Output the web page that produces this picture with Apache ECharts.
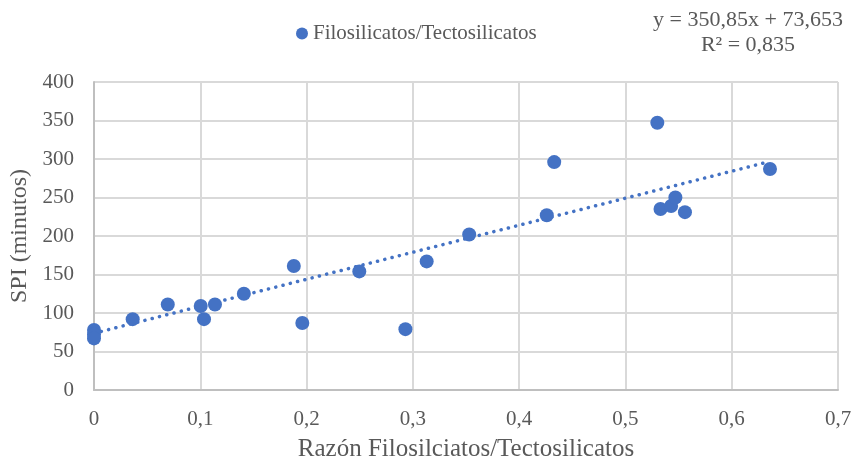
<!DOCTYPE html>
<html>
<head>
<meta charset="utf-8">
<script src="https://cdn.jsdelivr.net/npm/echarts@6/dist/echarts.min.js"></script>
<style>
  html, body { margin: 0; padding: 0; background: #fff; }
  #chart { width: 856px; height: 461px; }
</style>
</head>
<body>
<div id="chart"></div>
<script>
// Razón Filosilicatos/Tectosilicatos vs SPI (minutos)
const ratioValues = [0, 0, 0, 0.0364, 0.0694, 0.1004, 0.1035, 0.1138, 0.141, 0.188, 0.196,
  0.2496, 0.293, 0.313, 0.353, 0.426, 0.433, 0.530, 0.533, 0.543, 0.547, 0.556, 0.636];
const spiValues = [78, 72, 67, 92, 111, 109, 92, 111, 125, 161, 87,
  154, 79, 167, 202, 227, 296, 347, 235, 239, 250, 231, 287];

// Linear trend line as reported on the chart
const trendSlope = 350.85;
const trendIntercept = 73.653;
const trendLabel = ['y = 350,85x + 73,653', 'R² = 0,835'];

const seriesName = 'Filosilicatos/Tectosilicatos';
const xAxisTitle = 'Razón Filosilciatos/Tectosilicatos';
const yAxisTitle = 'SPI (minutos)';

const points = ratioValues.map((x, i) => [x, spiValues[i]]);
const xMin = Math.min(...ratioValues);
const xMax = Math.max(...ratioValues);
const trendPoints = [xMin, xMax].map(x => [x, trendSlope * x + trendIntercept]);

const serif = '"Liberation Serif", "Times New Roman", serif';
const textColor = '#595959';
const blue = '#4472C4';
const fmt = v => String(+v.toFixed(2)).replace('.', ',');

const chart = echarts.init(document.getElementById('chart'), null, { renderer: 'canvas' });
chart.setOption({
  animation: false,
  backgroundColor: '#fff',
  textStyle: { fontFamily: serif, color: textColor },
  grid: { left: 94, right: 18, top: 82, bottom: 71, containLabel: false, outerBoundsMode: 'none' },
  legend: {
    data: [{ name: seriesName, icon: 'circle' }],
    left: 291, top: 18,
    itemWidth: 12, itemHeight: 12, itemGap: 4,
    textStyle: { fontFamily: serif, fontSize: 21, color: textColor, padding: [0, 0, 0, 0] }
  },
  graphic: [
    {
      type: 'text', x: 748, y: 20,
      style: { text: trendLabel[0], align: 'center', verticalAlign: 'middle',
        font: '22px ' + serif, fill: textColor }
    },
    {
      type: 'text', x: 748, y: 45,
      style: { text: trendLabel[1], align: 'center', verticalAlign: 'middle',
        font: '22px ' + serif, fill: textColor }
    }
  ],
  xAxis: {
    type: 'value', min: 0, max: 0.7, interval: 0.1,
    name: xAxisTitle, nameLocation: 'middle', nameGap: 47,
    nameTextStyle: { fontFamily: serif, fontSize: 25, color: textColor },
    axisLine: { show: true, lineStyle: { color: '#bfbfbf', width: 2 } },
    axisTick: { show: false },
    axisLabel: { fontFamily: serif, fontSize: 21, color: textColor, margin: 19, formatter: fmt },
    splitLine: { show: true, lineStyle: { color: '#d9d9d9', width: 2 } }
  },
  yAxis: {
    type: 'value', min: 0, max: 400, interval: 50,
    name: yAxisTitle, nameLocation: 'middle', nameGap: 61, nameRotate: 90,
    nameTextStyle: { fontFamily: serif, fontSize: 24, color: textColor },
    axisLine: { show: true, lineStyle: { color: '#bfbfbf', width: 2 } },
    axisTick: { show: false },
    axisLabel: { fontFamily: serif, fontSize: 21, color: textColor, margin: 20 },
    splitLine: { show: true, lineStyle: { color: '#d9d9d9', width: 2 } }
  },
  series: [
    {
      name: seriesName,
      type: 'scatter',
      data: points,
      symbol: 'circle',
      symbolSize: 14,
      itemStyle: { color: blue, opacity: 1 },
      z: 3
    },
    {
      name: 'Lineal',
      type: 'line',
      data: trendPoints,
      symbol: 'none',
      silent: true,
      lineStyle: { color: blue, width: 3.5, type: [0.1, 7.4], cap: 'round' },
      z: 2
    }
  ]
});
</script>
</body>
</html>
